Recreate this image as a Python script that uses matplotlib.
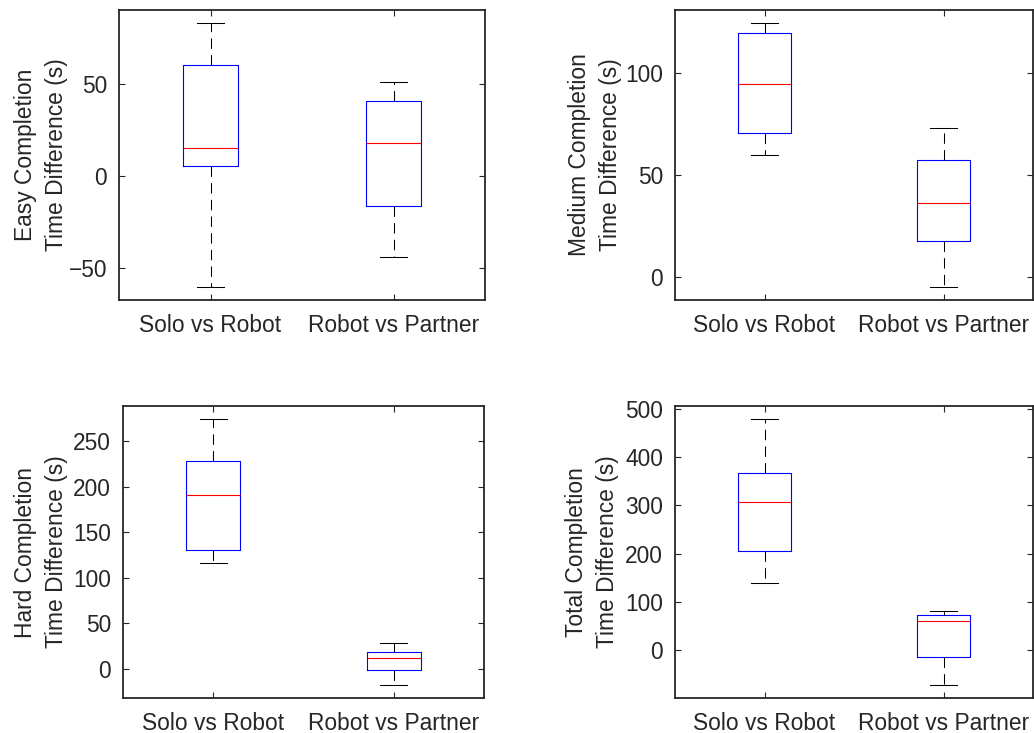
import matplotlib
matplotlib.use('Agg')
import matplotlib.pyplot as plt

# box summaries: [lower whisker, Q1, median, Q3, upper whisker]
categories = ['Solo vs Robot', 'Robot vs Partner']

easy_solo = [-60.5, 5.6, 15.2, 60.5, 83.2]
easy_partner = [-44.4, -16.5, 17.7, 40.8, 51.3]

medium_solo = [59.9, 70.8, 94.8, 119.5, 124.4]
medium_partner = [-4.7, 17.9, 36.2, 57.3, 73.3]

hard_solo = [116.0, 130.7, 190.7, 228.4, 273.8]
hard_partner = [-17.2, -1.5, 12.4, 18.3, 28.6]

total_solo = [139.0, 205.4, 307.1, 367.2, 477.9]
total_partner = [-71.2, -14.5, 61.5, 72.6, 81.6]

ylabels = ['Easy Completion\nTime Difference (s)',
           'Medium Completion\nTime Difference (s)',
           'Hard Completion\nTime Difference (s)',
           'Total Completion\nTime Difference (s)']
yticks = [[-50, 0, 50], [0, 50, 100], [0, 50, 100, 150, 200, 250],
          [0, 100, 200, 300, 400, 500]]

plt.rcParams['font.family'] = ['Liberation Sans', 'DejaVu Sans']
text_col = '#262626'
fs = 16.4

W, H = 1034, 733
fig = plt.figure(figsize=(W / 100, H / 100), dpi=100)

# axes rectangles in pixels: left, top, right, bottom
rects = [(119, 10, 485, 300), (675, 10, 1033, 300),
         (123, 406, 484, 698), (675, 406, 1033, 698)]
label_x = [-0.139, -0.148, -0.152, -0.156]

panels = [(easy_solo, easy_partner), (medium_solo, medium_partner),
          (hard_solo, hard_partner), (total_solo, total_partner)]


def make_stats(s, name):
    return {'whislo': s[0], 'q1': s[1], 'med': s[2], 'q3': s[3],
            'whishi': s[4], 'fliers': [], 'label': name}


for i, (a, b) in enumerate(panels):
    l, t, r, btm = rects[i]
    ax = fig.add_axes([l / W, (H - btm) / H, (r - l) / W, (btm - t) / H])
    stats = [make_stats(a, categories[0]), make_stats(b, categories[1])]
    ax.bxp(stats, positions=[1, 2], widths=0.3, showfliers=False,
           boxprops=dict(color='#0000ff', lw=0.8),
           medianprops=dict(color='#ff0000', lw=0.8),
           whiskerprops=dict(color='black', lw=0.75, linestyle=(0, (10, 6))),
           capprops=dict(color='black', lw=0.75),
           capwidths=0.15)
    lo = min(a[0], b[0])
    hi = max(a[4], b[4])
    pad = 0.05 * (hi - lo)
    ax.set_ylim(lo - pad, hi + pad)
    ax.set_xlim(0.5, 2.5)
    ax.set_yticks(yticks[i])
    ax.set_xticks([1, 2])
    ax.set_xticklabels(categories)
    ax.tick_params(direction='in', length=4, width=0.8, top=True, right=True,
                   labelsize=fs, colors=text_col)
    ax.tick_params(axis='y', pad=8.5)
    ax.tick_params(axis='x', pad=10)
    for sp in ax.spines.values():
        sp.set_color(text_col)
        sp.set_linewidth(1.3)
    ax.set_ylabel(ylabels[i], fontsize=fs, color=text_col, linespacing=1.45)
    ax.yaxis.set_label_coords(label_x[i], 0.5)

fig.savefig('out.png', dpi=100)
